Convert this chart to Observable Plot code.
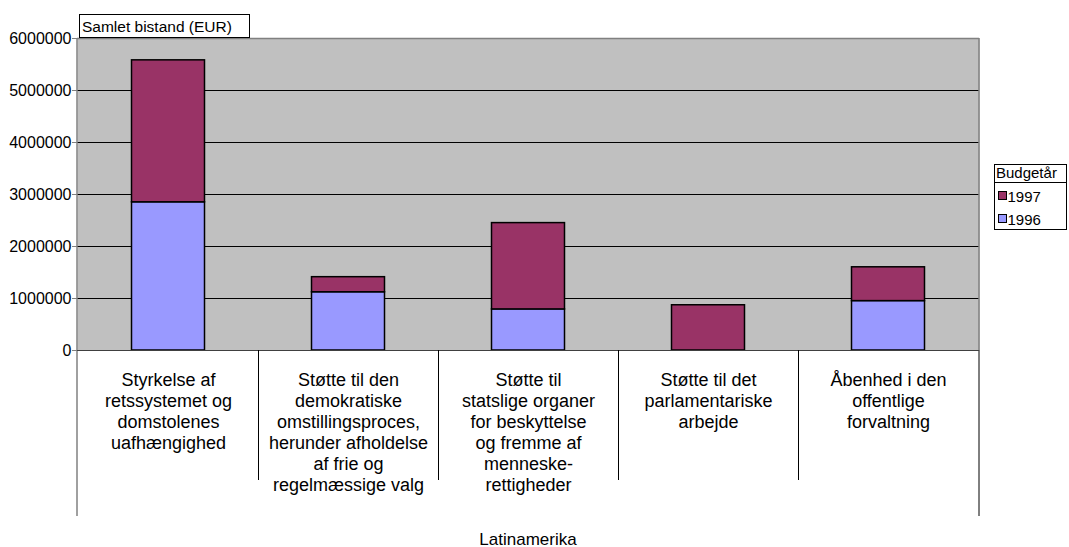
<!DOCTYPE html>
<html><head><meta charset="utf-8">
<script src="https://cdn.jsdelivr.net/npm/d3@7"></script>
<script src="https://cdn.jsdelivr.net/npm/@observablehq/plot@0.6"></script>
<style>body{margin:0;background:#fff;} svg{display:block}</style>
</head><body><div id="chart"></div>
<script>
const categories = [
  "Styrkelse af\nretssystemet og\ndomstolenes\nuafhængighed",
  "Støtte til den\ndemokratiske\nomstillingsproces,\nherunder afholdelse\naf frie og\nregelmæssige valg",
  "Støtte til\nstatslige organer\nfor beskyttelse\nog fremme af\nmenneske-\nrettigheder",
  "Støtte til det\nparlamentariske\narbejde",
  "Åbenhed i den\noffentlige\nforvaltning"
];
const values1996 = [2850000, 1120000, 790000, 0, 950000];
const values1997 = [2730000, 290000, 1660000, 870000, 650000];
const years = ["1996", "1997"];
const legendYears = ["1997", "1996"];
const yearColors = ["#9999FF", "#993366"];
const yTicks = [0, 1000000, 2000000, 3000000, 4000000, 5000000, 6000000];
const groupLabel = "Latinamerika";
const yTitle = "Samlet bistand (EUR)";
const legendTitle = "Budgetår";

const rows = [];
categories.forEach((c, i) => {
  if (values1996[i] > 0) rows.push({cat: c, year: "1996", value: values1996[i]});
  if (values1997[i] > 0) rows.push({cat: c, year: "1997", value: values1997[i]});
});

const W = 1069, H = 547, mL = 77, mR = 90, mT = 38, mB = 197;
const font = "'Liberation Sans', Arial, sans-serif";

const chart = Plot.plot({
  width: W, height: H,
  marginLeft: mL, marginRight: mR, marginTop: mT, marginBottom: mB,
  style: {fontFamily: font, fontSize: "15px", background: "#fff", color: "#000", overflow: "visible"},
  x: {domain: categories, padding: 0, axis: null},
  y: {domain: [0, 6000000], axis: null},
  color: {domain: years, range: yearColors},
  marks: [
    Plot.frame({fill: "#c0c0c0", stroke: null}),
    Plot.gridY(yTicks.filter(d => d > 0 && d < 6000000), {stroke: "#000", strokeOpacity: 1}),
    Plot.barY(rows, {x: "cat", y: "value", fill: "year", stroke: "#000", strokeWidth: 1.5, insetLeft: 53.5, insetRight: 53.5}),
    Plot.axisY(yTicks, {tickFormat: d3.format("d"), tickSize: 5, tickPadding: 1, stroke: "#808080", fill: "#000", fontSize: 16, label: null}),
    Plot.axisX(categories, {tickSize: 0, tickPadding: 21, fontSize: 18, lineHeight: 21 / 18, fill: "#000", label: null})
  ]
});
document.getElementById("chart").appendChild(chart);

const svg = d3.select(chart);
const xs = chart.scale("x"), ys = chart.scale("y");
const x0 = mL, x1 = W - mR;
const y0 = ys.apply(0), yTop = ys.apply(6000000);
const sepBottom = 480, outerBottom = 516;
const g = svg.append("g").attr("text-anchor", "start").attr("font-family", font);
function line(xa, ya, xb, yb, color, w) {
  g.append("line").attr("x1", xa).attr("y1", ya).attr("x2", xb).attr("y2", yb)
    .attr("stroke", color).attr("stroke-width", w);
}
line(x0, yTop + 0.5, x1, yTop + 0.5, "#808080", 1.5);
line(x1, yTop, x1, y0, "#808080", 1.5);
line(x1, y0, x1, outerBottom, "#000", 1);
line(x0, yTop, x0, outerBottom, "#808080", 1.5);
line(x0, y0 + 0.5, x1, y0 + 0.5, "#404040", 1);
categories.slice(1).forEach(c => {
  const bx = Math.round(xs.apply(c)) + 0.5;
  line(bx, y0, bx, sepBottom, "#000", 1);
});

// y title box
g.append("rect").attr("x", 79.5).attr("y", 14.5).attr("width", 170).attr("height", 23)
  .attr("fill", "#fff").attr("stroke", "#000");
g.append("text").attr("x", 82).attr("y", 31.5).attr("font-size", 15.5)
  .attr("fill", "#000").text(yTitle);

// legend
const lx = 994, ly = 164;
g.append("rect").attr("x", lx + 0.5).attr("y", ly + 0.5).attr("width", 72).attr("height", 18)
  .attr("fill", "#fff").attr("stroke", "#000");
g.append("text").attr("x", lx + 2).attr("y", ly + 14).attr("font-size", 15)
  .attr("fill", "#000").text(legendTitle);
g.append("rect").attr("x", lx + 0.5).attr("y", ly + 18.5).attr("width", 72).attr("height", 47)
  .attr("fill", "#fff").attr("stroke", "#000");
legendYears.forEach((yr, i) => {
  const cy = ly + 32 + i * 23;
  g.append("rect").attr("x", lx + 4.5).attr("y", cy - 4.5).attr("width", 8).attr("height", 8)
    .attr("fill", yearColors[years.indexOf(yr)]).attr("stroke", "#000");
  g.append("text").attr("x", lx + 13.5).attr("y", cy + 5.5).attr("font-size", 15)
    .attr("fill", "#000").text(yr);
});

g.append("text").attr("x", (x0 + x1) / 2).attr("y", 545).attr("text-anchor", "middle")
  .attr("font-size", 17).attr("fill", "#000").text(groupLabel);
</script>
</body></html>
